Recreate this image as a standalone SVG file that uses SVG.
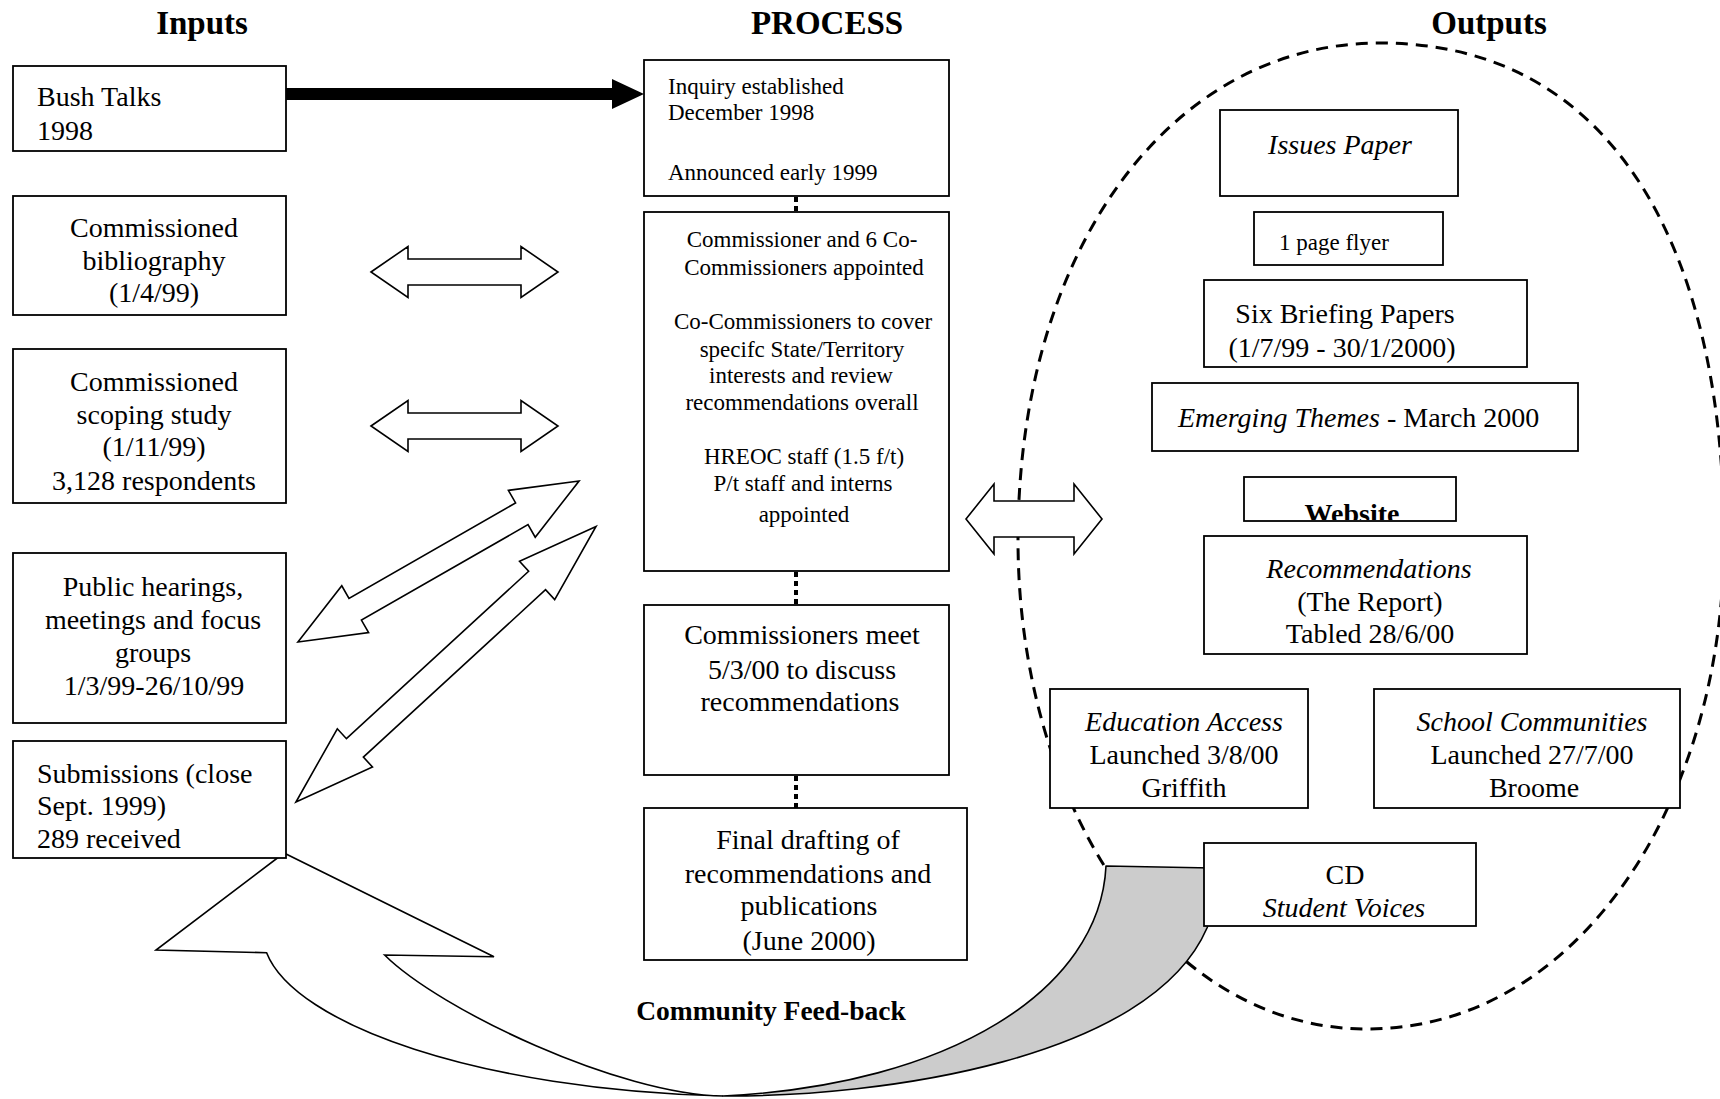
<svg xmlns="http://www.w3.org/2000/svg" width="1720" height="1099" viewBox="0 0 1720 1099">
<style>
text{font-family:"Liberation Serif","Times New Roman",serif;fill:#000}
.t28{font-size:28px}
.t23{font-size:23px}
.h{font-size:33px;font-weight:bold}
.c{text-anchor:middle}
.i{font-style:italic}
.box{fill:#fff;stroke:#000;stroke-width:1.8}
.dbl{fill:#fff;stroke:#000;stroke-width:1.6;stroke-linejoin:miter}
.dot{stroke:#000;stroke-width:4;stroke-dasharray:5 4;fill:none}
</style>
<defs>
<clipPath id="webclip"><rect x="1244" y="477" width="212" height="43"/></clipPath>
</defs>

<g id="titles">
<text class="h c" x="202" y="34">Inputs</text>
<text class="h c" x="827" y="34">PROCESS</text>
<text class="h c" x="1489" y="34">Outputs</text>
</g>

<g id="outputs-boundary">
<path d="M1018,540 C1018,250 1170,43 1380,43 C1620,43 1724,260 1724,540 C1724,800 1580,1029 1367,1029 C1160,1029 1018,800 1018,540 Z" fill="none" stroke="#000" stroke-width="3" stroke-dasharray="12 8"/>
</g>

<g id="connectors">
<polygon points="286,88 612,88 612,79 644,94 612,109 612,100 286,100" fill="#000"/>
<polygon class="dbl" points="371,272 408,246.5 408,259 521,259 521,246.5 558,272 521,297.5 521,285 408,285 408,297.5"/>
<polygon class="dbl" points="371,426 408,400.5 408,413 521,413 521,400.5 558,426 521,451.5 521,439 408,439 408,451.5"/>
<polygon class="dbl" transform="translate(438.5,561.5) rotate(-29.8)" points="-162,0 -96,-27 -96,-12.5 96,-12.5 96,-27 162,0 96,27 96,12.5 -96,12.5 -96,27"/>
<polygon class="dbl" transform="translate(446,664.2) rotate(-42.57)" points="-203.7,0 -123.7,-26 -123.7,-12.5 123.7,-12.5 123.7,-26 203.7,0 123.7,26 123.7,12.5 -123.7,12.5 -123.7,26"/>
<polygon class="dbl" points="966,519 994,484 994,501 1074,501 1074,484 1102,519 1074,554 1074,537 994,537 994,554"/>
<line class="dot" x1="796" y1="197" x2="796" y2="212"/>
<line class="dot" x1="796" y1="572" x2="796" y2="605"/>
<line class="dot" x1="796" y1="776" x2="796" y2="808"/>
<path id="feedback-back" d="M1106,866 L1212,868 L1212,915 L1207,928 C1150,1060 880,1097 723,1096 C950,1085 1100,990 1106,866 Z" fill="#cccccc" stroke="#000" stroke-width="1.6" stroke-linejoin="round"/>
<path id="feedback-front" d="M284,853 L156,950 L266.6,952.7 C295,1025 480,1090 723,1096 C620,1095 440,1010 384.6,955 L494,956.7 Z" fill="#fff" stroke="#000" stroke-width="1.6" stroke-linejoin="miter"/>
</g>

<g id="node-bush">
<rect class="box" x="13" y="66" width="273" height="85"/>
<text class="t28" x="37" y="106">Bush Talks</text>
<text class="t28" x="37" y="140">1998</text>
</g>
<g id="node-bibliography">
<rect class="box" x="13" y="196" width="273" height="119"/>
<text class="t28 c" x="154" y="237">Commissioned</text>
<text class="t28 c" x="154" y="270">bibliography</text>
<text class="t28 c" x="154" y="302">(1/4/99)</text>
</g>
<g id="node-scoping">
<rect class="box" x="13" y="349" width="273" height="154"/>
<text class="t28 c" x="154" y="391">Commissioned</text>
<text class="t28 c" x="154" y="424">scoping study</text>
<text class="t28 c" x="154" y="456">(1/11/99)</text>
<text class="t28 c" x="154" y="490">3,128 respondents</text>
</g>
<g id="node-hearings">
<rect class="box" x="13" y="553" width="273" height="170"/>
<text class="t28 c" x="153" y="596">Public hearings,</text>
<text class="t28 c" x="153" y="629">meetings and focus</text>
<text class="t28 c" x="153" y="662">groups</text>
<text class="t28 c" x="154" y="695">1/3/99-26/10/99</text>
</g>
<g id="node-submissions">
<rect class="box" x="13" y="741" width="273" height="117"/>
<text class="t28" x="37" y="783">Submissions (close</text>
<text class="t28" x="37" y="815">Sept. 1999)</text>
<text class="t28" x="37" y="848">289 received</text>
</g>

<g id="node-inquiry">
<rect class="box" x="644" y="60" width="305" height="136"/>
<text class="t23" x="668" y="94">Inquiry established</text>
<text class="t23" x="668" y="120">December 1998</text>
<text class="t23" x="668" y="180">Announced early 1999</text>
</g>
<g id="node-commissioners">
<rect class="box" x="644" y="212" width="305" height="359"/>
<text class="t23 c" x="802" y="247">Commissioner and 6 Co-</text>
<text class="t23 c" x="804" y="275">Commissioners appointed</text>
<text class="t23 c" x="803" y="329">Co-Commissioners to cover</text>
<text class="t23 c" x="802" y="357">specifc State/Territory</text>
<text class="t23 c" x="801" y="383">interests and review</text>
<text class="t23 c" x="802" y="410">recommendations overall</text>
<text class="t23 c" x="804" y="464">HREOC staff (1.5 f/t)</text>
<text class="t23 c" x="803" y="491">P/t staff and interns</text>
<text class="t23 c" x="804" y="522">appointed</text>
</g>
<g id="node-meet">
<rect class="box" x="644" y="605" width="305" height="170"/>
<text class="t28 c" x="802" y="644">Commissioners meet</text>
<text class="t28 c" x="802" y="679">5/3/00 to discuss</text>
<text class="t28 c" x="800" y="711">recommendations</text>
</g>
<g id="node-drafting">
<rect class="box" x="644" y="808" width="323" height="152"/>
<text class="t28 c" x="808" y="849">Final drafting of</text>
<text class="t28 c" x="808" y="883">recommendations and</text>
<text class="t28 c" x="809" y="915">publications</text>
<text class="t28 c" x="809" y="950">(June 2000)</text>
</g>
<g id="label-feedback">
<text class="c" x="771" y="1020" style="font-size:27.5px;font-weight:bold">Community Feed-back</text>
</g>

<g id="node-issues">
<rect class="box" x="1220" y="110" width="238" height="86"/>
<text class="t28 c i" x="1340" y="154">Issues Paper</text>
</g>
<g id="node-flyer">
<rect class="box" x="1254" y="212" width="189" height="53"/>
<text class="t23" x="1279" y="250">1 page flyer</text>
</g>
<g id="node-briefing">
<rect class="box" x="1204" y="280" width="323" height="87"/>
<text class="t28 c" x="1345" y="323">Six Briefing Papers</text>
<text class="t28 c" x="1342" y="357">(1/7/99 - 30/1/2000)</text>
</g>
<g id="node-themes">
<rect class="box" x="1152" y="383" width="426" height="68"/>
<text class="t28" x="1178" y="427"><tspan class="i">Emerging Themes</tspan> - March 2000</text>
</g>
<g id="node-website">
<rect x="1244" y="477" width="212" height="44" fill="#fff"/>
<text class="c" x="1352" y="523" clip-path="url(#webclip)" style="font-size:28px;font-weight:bold">Website</text>
<rect x="1244" y="477" width="212" height="44" fill="none" stroke="#000" stroke-width="1.8"/>
</g>
<g id="node-recommendations">
<rect class="box" x="1204" y="536" width="323" height="118"/>
<text class="t28 c i" x="1369" y="578">Recommendations</text>
<text class="t28 c" x="1370" y="611">(The Report)</text>
<text class="t28 c" x="1370" y="643">Tabled 28/6/00</text>
</g>
<g id="node-education">
<rect class="box" x="1050" y="689" width="258" height="119"/>
<text class="t28 c i" x="1184" y="731">Education Access</text>
<text class="t28 c" x="1184" y="764">Launched 3/8/00</text>
<text class="t28 c" x="1184" y="797">Griffith</text>
</g>
<g id="node-school">
<rect class="box" x="1374" y="689" width="306" height="119"/>
<text class="t28 c i" x="1532" y="731">School Communities</text>
<text class="t28 c" x="1532" y="764">Launched 27/7/00</text>
<text class="t28 c" x="1534" y="797">Broome</text>
</g>
<g id="node-cd">
<rect class="box" x="1204" y="843" width="272" height="83"/>
<text class="t28 c" x="1345" y="884">CD</text>
<text class="t28 c i" x="1344" y="917">Student Voices</text>
</g>
</svg>
